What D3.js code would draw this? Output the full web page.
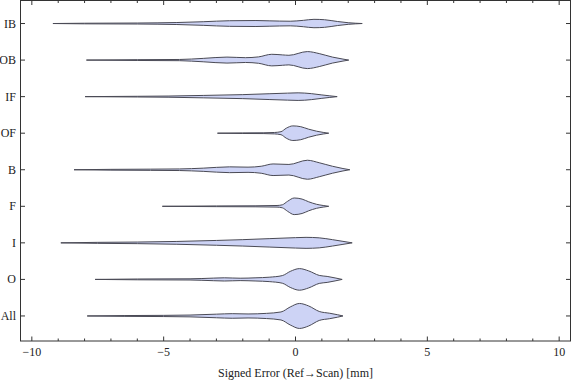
<!DOCTYPE html>
<html><head><meta charset="utf-8">
<script src="https://cdn.jsdelivr.net/npm/d3@7"></script>
<style>body{margin:0;background:#fff}svg{display:block}</style>
</head><body>
<script>
const categories = ["All","O","I","F","B","OF","IF","OB","IB"];
const xs_IB = [-9.2,-8,-6,-4.5,-3.5,-2.5,-1.5,-1,-0.2,0.3,0.7,1.1,1.6,2.0,2.53];
const dens_IB = [0,0.012,0.02,0.04,0.072,0.112,0.12,0.108,0.092,0.128,0.168,0.152,0.08,0.032,0];
const xs_OB = [-7.93,-6,-4.4,-3.5,-2.6,-1.9,-1.4,-0.9,-0.5,-0.25,0.45,0.9,1.4,1.8,2.02];
const dens_OB = [0,0.016,0.024,0.068,0.12,0.096,0.128,0.232,0.208,0.192,0.34,0.26,0.12,0.04,0];
const xs_IF = [-7.98,-6,-4.8,-3.5,-2,-1,-0.3,0.1,0.6,1.0,1.3,1.58];
const dens_IF = [0,0.014,0.024,0.048,0.08,0.116,0.14,0.152,0.12,0.068,0.032,0];
const xs_OF = [-2.96,-2.0,-1.2,-0.8,-0.55,-0.35,-0.1,0.2,0.5,0.8,1.05,1.26];
const dens_OF = [0,0.012,0.016,0.028,0.06,0.2,0.292,0.26,0.16,0.08,0.032,0];
const xs_B = [-8.4,-7,-5.5,-4.4,-3.5,-2.5,-1.8,-1.3,-0.85,-0.25,0.45,0.9,1.4,1.8,2.06];
const dens_B = [0,0.016,0.024,0.032,0.064,0.116,0.104,0.14,0.232,0.212,0.38,0.28,0.14,0.048,0];
const xs_F = [-5.05,-3,-1.5,-0.7,-0.5,-0.3,-0.05,0.25,0.5,0.8,1.05,1.26];
const dens_F = [0,0.014,0.02,0.032,0.06,0.2,0.332,0.288,0.18,0.08,0.032,0];
const xs_I = [-8.9,-7.5,-6,-4.5,-3,-2,-1,0,0.4,0.9,1.4,1.8,2.15];
const dens_I = [0,0.02,0.032,0.056,0.096,0.128,0.168,0.208,0.22,0.2,0.128,0.06,0];
const xs_O = [-7.6,-6,-4,-3.1,-2.7,-2.1,-1.5,-1.0,-0.5,-0.2,0.15,0.5,0.9,1.2,1.5,1.77];
const dens_O = [0,0.016,0.024,0.052,0.064,0.048,0.064,0.088,0.152,0.32,0.432,0.34,0.16,0.12,0.06,0];
const xs_All = [-7.9,-6.5,-5,-4,-3,-2.4,-1.8,-1.1,-0.55,-0.2,0.15,0.5,0.9,1.3,1.6,1.8];
const dens_All = [0,0.016,0.024,0.036,0.072,0.092,0.08,0.104,0.16,0.36,0.5,0.4,0.18,0.108,0.048,0];
const xMajorTicks = [-10,-5,0,5,10];
const xTickLabels = ["\u221210","\u22125","0","5","10"];
const xMinorTicks = [-9,-8,-7,-6,-4,-3,-2,-1,1,2,3,4,6,7,8,9];
const xTitle = "Signed Error (Ref\u2192Scan) [mm]";

const profiles = {
  All:[xs_All,dens_All], O:[xs_O,dens_O], I:[xs_I,dens_I], F:[xs_F,dens_F],
  B:[xs_B,dens_B], OF:[xs_OF,dens_OF], IF:[xs_IF,dens_IF], OB:[xs_OB,dens_OB], IB:[xs_IB,dens_IB]
};

const W = 576, H = 381;
const L = 20.5, R = 570.5, T = 0.5, B = 341;
const svg = d3.select("body").append("svg").attr("width", W).attr("height", H);
const x = d3.scaleLinear().domain([-10.43, 10.43]).range([L, R]);
const y = d3.scaleLinear().domain([0.315, 9.63]).range([B, T]);
const w = d3.scaleLinear().domain([0, 0.5]).range([0, 12.5]);
const font = "'Liberation Serif', 'Times New Roman', serif";
const frameColor = "#333";

// violins
categories.forEach((c, i) => {
  const [xs, ds] = profiles[c];
  const pts = xs.map((v, j) => [v, ds[j]]);
  const yc = y(i + 1);
  const area = d3.area().curve(d3.curveMonotoneX)
    .x(d => x(d[0])).y0(d => yc + w(d[1])).y1(d => yc - w(d[1]));
  svg.append("path").attr("d", area(pts))
    .attr("fill", "#cdd3f5").attr("stroke", "#4a4a55").attr("stroke-width", 1)
    .attr("stroke-linejoin", "round");
});

// frame
svg.append("rect").attr("x", L).attr("y", T).attr("width", R - L).attr("height", B - T)
  .attr("fill", "none").attr("stroke", frameColor).attr("stroke-width", 1);

const g = svg.append("g").attr("stroke", frameColor).attr("stroke-width", 1);
xMajorTicks.forEach(t => {
  g.append("line").attr("x1", x(t)).attr("x2", x(t)).attr("y1", B).attr("y2", B - 4.5);
  g.append("line").attr("x1", x(t)).attr("x2", x(t)).attr("y1", T).attr("y2", T + 4.5);
});
xMinorTicks.forEach(t => {
  g.append("line").attr("x1", x(t)).attr("x2", x(t)).attr("y1", B).attr("y2", B - 2.5);
  g.append("line").attr("x1", x(t)).attr("x2", x(t)).attr("y1", T).attr("y2", T + 2.5);
});
categories.forEach((c, i) => {
  g.append("line").attr("x1", L).attr("x2", L + 4.5).attr("y1", y(i + 1)).attr("y2", y(i + 1));
  g.append("line").attr("x1", R).attr("x2", R - 4.5).attr("y1", y(i + 1)).attr("y2", y(i + 1));
});

// labels
xMajorTicks.forEach((t, i) => {
  svg.append("text").attr("x", x(t)).attr("y", 356).attr("text-anchor", "middle")
    .attr("font-family", font).attr("font-size", 12).attr("fill", "#222").text(xTickLabels[i]);
});
categories.forEach((c, i) => {
  svg.append("text").attr("x", 16).attr("y", y(i + 1) + 4).attr("text-anchor", "end")
    .attr("font-family", font).attr("font-size", 12).attr("fill", "#222").text(c);
});
svg.append("text").attr("x", x(0)).attr("y", 377).attr("text-anchor", "middle")
  .attr("font-family", font).attr("font-size", 12).attr("fill", "#222").text(xTitle);
</script>
</body></html>
